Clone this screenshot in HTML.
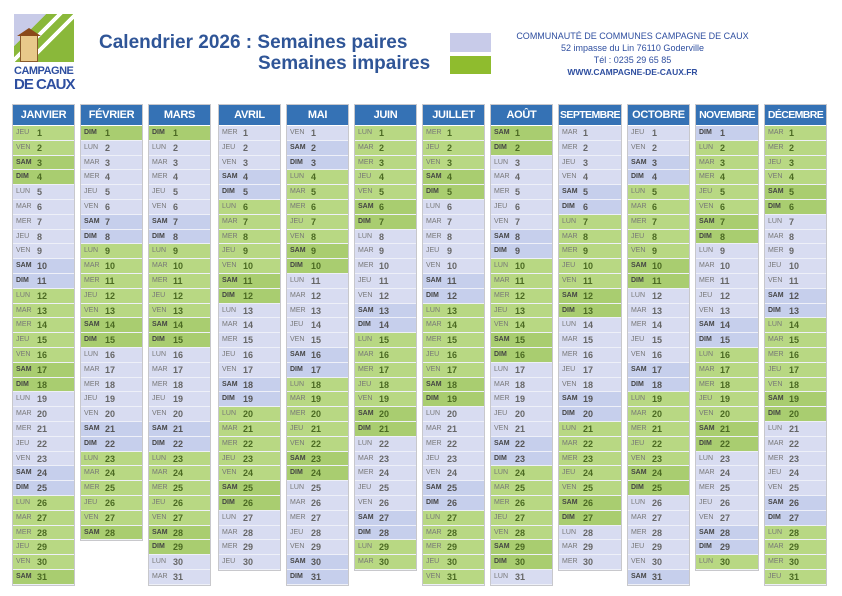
<!DOCTYPE html>
<html><head><meta charset="utf-8"><style>
body{margin:0;width:842px;height:596px;background:#fff;position:relative;overflow:hidden;font-family:"Liberation Sans",sans-serif}
.a{position:absolute}
.col{position:absolute;top:104px;width:63px;border:1px solid #c8c8cc;box-sizing:border-box;background:#fff}
.hd{height:20px;background:#3572b5;color:#fff;font-weight:bold;font-size:11px;text-align:center;line-height:20px;border-bottom:1px solid #fff;white-space:nowrap;letter-spacing:-0.3px;overflow:hidden}
.r{height:14.8px;box-sizing:border-box;border-bottom:1px solid #eef0f8;font-size:7px;line-height:14px;color:#777;position:relative}
.r b{position:absolute;left:24px;font-size:9px;color:#666}
.r span{position:absolute;left:3px}
.e{background:#d8dcf1}.ew{background:#c6cfec}
.o{background:#b8d883}.ow{background:#a9cd70}
.o b,.ow b{color:#4b6a22}.ow span,.ew span{color:#444;font-weight:bold}
.ew b{color:#555}
</style></head><body>
<div class="a" style="left:14px;top:14px;width:60px;height:48px;background:linear-gradient(135deg,#c8cbe8 30%,#8ab83a 30%,#8ab83a 40%,#fff 40%,#fff 45%,#8ab83a 45%,#8ab83a 55%,#fff 55%,#fff 60%,#8ab83a 60%)"></div>
<div class="a" style="left:20px;top:34px;width:16px;height:26px;background:#e8c98a;border:1px solid #8a5a2a"></div>
<div class="a" style="left:17px;top:28px;width:0;height:0;border-left:12px solid transparent;border-right:12px solid transparent;border-bottom:8px solid #8a4a1a"></div>
<div class="a" style="left:14px;top:66px;font-size:11px;font-weight:bold;color:#2e4fa0;letter-spacing:-0.5px;line-height:11px">CAMPAGNE</div>
<div class="a" style="left:14px;top:77px;font-size:15px;font-weight:bold;color:#2e4fa0;letter-spacing:-1px;line-height:15px">DE CAUX</div>
<div class="a" style="left:99px;top:32px;font-size:19px;font-weight:bold;color:#2f5597;white-space:nowrap">Calendrier 2026 : Semaines paires</div>
<div class="a" style="left:258px;top:53px;font-size:19px;font-weight:bold;color:#2f5597;white-space:nowrap">Semaines impaires</div>
<div class="a" style="left:450px;top:33px;width:41px;height:19px;background:#c8cbe9"></div>
<div class="a" style="left:450px;top:56px;width:41px;height:18px;background:#8fbc2e"></div>
<div class="a" style="left:500px;top:30px;width:265px;text-align:center;font-size:9px;color:#2f4fa0;line-height:12px;white-space:nowrap">COMMUNAUTÉ DE COMMUNES CAMPAGNE DE CAUX<br>52 impasse du Lin 76110 Goderville<br>Tél : 0235 29 65 85<br><b style="font-size:8.5px">WWW.CAMPAGNE-DE-CAUX.FR</b></div>
<div id="c"></div>
<script>
var M=["JANVIER","FÉVRIER","MARS","AVRIL","MAI","JUIN","JUILLET","AOÛT","SEPTEMBRE","OCTOBRE","NOVEMBRE","DÉCEMBRE"];
var D=["DIM","LUN","MAR","MER","JEU","VEN","SAM"];
var L=[12,80,148,218,286,354,422,490,558,627,695,764];
function wk(d){var t=new Date(Date.UTC(d.getUTCFullYear(),d.getUTCMonth(),d.getUTCDate()));var n=t.getUTCDay()||7;t.setUTCDate(t.getUTCDate()+4-n);var y=new Date(Date.UTC(t.getUTCFullYear(),0,1));return Math.ceil(((t-y)/864e5+1)/7);}
var h="";
for(var m=0;m<12;m++){var n=new Date(Date.UTC(2026,m+1,0)).getUTCDate();
h+='<div class="col" style="left:'+L[m]+'px;width:'+(m==8||m==10?64:63)+'px"><div class="hd"'+(m==8||m==10||m==11?' style="font-size:10.5px;letter-spacing:-0.6px"':'')+'>'+M[m]+'</div>';
for(var d=1;d<=n;d++){var dt=new Date(Date.UTC(2026,m,d));var g=dt.getUTCDay();var w=wk(dt);var we=(g==0||g==6);
var c=(w%2?'o':'e')+(we?'w':'');h+='<div class="r '+c+'"><span>'+D[g]+'</span><b>'+d+'</b></div>';}
h+='</div>';}
document.getElementById("c").innerHTML=h;
</script>
</body></html>
